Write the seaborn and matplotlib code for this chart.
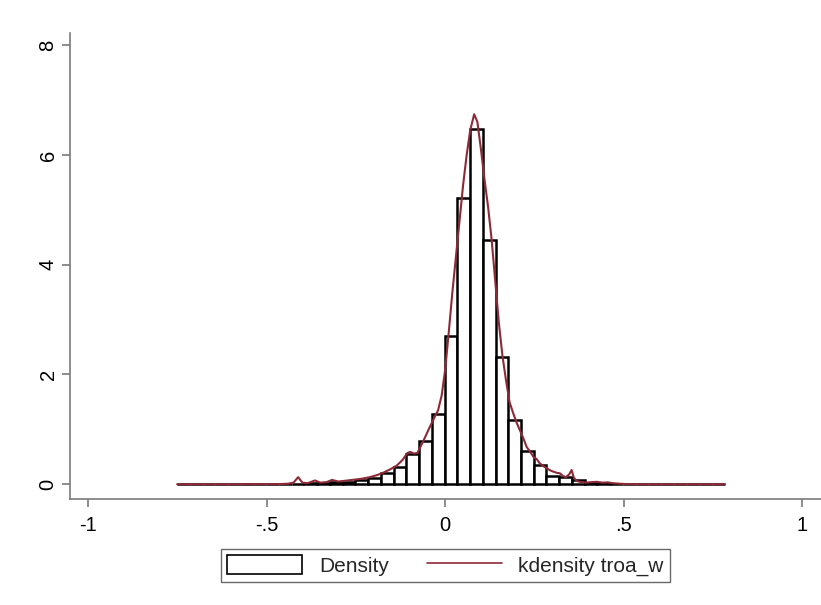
import numpy as np
import pandas as pd
import matplotlib
matplotlib.use("Agg")
import matplotlib.pyplot as plt
import seaborn as sns
from matplotlib.patches import Patch
from matplotlib.lines import Line2D

# ---- data ----
x_min, x_max, n_bins = -0.751, 0.783, 43
bin_edges = np.linspace(x_min, x_max, n_bins + 1)
bin_centers = (bin_edges[:-1] + bin_edges[1:]) / 2
hist_density = [
    0.01, 0.0, 0.0, 0.0, 0.0, 0.0, 0.0, 0.0, 0.005, 0.01,
    0.02, 0.03, 0.04, 0.05, 0.08, 0.11, 0.21, 0.32, 0.55, 0.78,
    1.28, 2.70, 5.21, 6.47, 4.45, 2.32, 1.17, 0.60, 0.35, 0.16,
    0.13, 0.08, 0.03, 0.02, 0.01, 0.005, 0.0, 0.0, 0.0, 0.0,
    0.0, 0.0, 0.0,
]

kde_x = [-0.751, -0.60, -0.47, -0.44, -0.425, -0.412, -0.400, -0.385, -0.365, -0.350,
         -0.332, -0.317, -0.300, -0.286, -0.260, -0.235, -0.211, -0.190, -0.174, -0.155,
         -0.136, -0.120, -0.106, -0.098, -0.088, -0.078, -0.062, -0.045, -0.030, -0.020,
         -0.010, 0.000, 0.010, 0.020, 0.030, 0.040, 0.050, 0.060, 0.070, 0.081,
         0.090, 0.100, 0.110, 0.120, 0.130, 0.140, 0.150, 0.160, 0.170, 0.180,
         0.190, 0.200, 0.210, 0.218, 0.228, 0.237, 0.247, 0.256, 0.265, 0.275,
         0.284, 0.295, 0.303, 0.312, 0.321, 0.330, 0.338, 0.347, 0.354, 0.360,
         0.368, 0.380, 0.395, 0.410, 0.425, 0.440, 0.455, 0.470, 0.490, 0.520,
         0.783]
kde_y = [0.0, 0.0, 0.003, 0.01, 0.03, 0.13, 0.03, 0.02, 0.07, 0.03,
         0.04, 0.08, 0.05, 0.06, 0.08, 0.10, 0.13, 0.17, 0.21, 0.27,
         0.34, 0.44, 0.57, 0.59, 0.56, 0.57, 0.78, 1.02, 1.22, 1.35,
         1.62, 2.10, 2.78, 3.50, 4.15, 4.80, 5.45, 6.00, 6.45, 6.74,
         6.60, 6.10, 5.55, 5.05, 4.45, 3.70, 2.95, 2.35, 1.90, 1.50,
         1.30, 1.12, 0.97, 0.85, 0.68, 0.60, 0.50, 0.46, 0.38, 0.33,
         0.29, 0.25, 0.23, 0.21, 0.20, 0.15, 0.13, 0.18, 0.26, 0.12,
         0.06, 0.04, 0.03, 0.04, 0.045, 0.03, 0.035, 0.02, 0.01, 0.0,
         0.0]

x_ticks = [-1, -0.5, 0, 0.5, 1]
x_tick_labels = ["-1", "-.5", "0", ".5", "1"]
y_ticks = [0, 2, 4, 6, 8]
y_tick_labels = ["0", "2", "4", "6", "8"]
legend_labels = ["Density", "kdensity troa_w"]

# ---- style ----
sns.set_theme(style="white")
plt.rcParams["font.family"] = ["Liberation Sans", "DejaVu Sans"]

line_color = "#8e2a38"
axis_color = "#7a7a7a"

fig = plt.figure(figsize=(8.21, 6.05), dpi=100)
ax = fig.add_axes([70 / 821, (605 - 499) / 605, (828 - 70) / 821, (499 - 33) / 605])

hist_df = pd.DataFrame({"x": bin_centers, "w": hist_density})
sns.histplot(data=hist_df, x="x", weights="w", bins=n_bins, binrange=(x_min, x_max),
             stat="count", element="bars", fill=True, color="white",
             edgecolor="black", linewidth=1.8, alpha=1.0, ax=ax)

kde_df = pd.DataFrame({"x": kde_x, "y": kde_y})
sns.lineplot(data=kde_df, x="x", y="y", color=line_color, linewidth=1.5,
             estimator=None, ax=ax)

ax.set_xlim(-1.051, 1.072)
ax.set_ylim(-0.268, 8.22)
ax.set_xticks(x_ticks)
ax.set_xticklabels(x_tick_labels)
ax.set_yticks(y_ticks)
ax.set_yticklabels(y_tick_labels, rotation=90, va="center")
ax.set_xlabel("")
ax.set_ylabel("")

for side in ["top", "right"]:
    ax.spines[side].set_visible(False)
for side in ["left", "bottom"]:
    ax.spines[side].set_color(axis_color)
    ax.spines[side].set_linewidth(1.2)

ax.tick_params(axis="both", which="major", direction="out", length=6, width=1.2,
               color=axis_color, labelsize=14.5, labelcolor="black",
               bottom=True, left=True)
ax.tick_params(axis="x", pad=6.5)
ax.tick_params(axis="y", pad=3)
ax.grid(False)

handles = [Patch(facecolor="white", edgecolor="black", linewidth=1.2),
           Line2D([0], [0], color=line_color, linewidth=1.2)]
leg = fig.legend(handles, legend_labels, loc="center", ncol=2,
                 bbox_to_anchor=(445.5 / 821, 1 - 565.5 / 605), frameon=True,
                 fancybox=False, edgecolor="#444444", fontsize=15,
                 handlelength=3.6, handleheight=1.0, columnspacing=1.8,
                 handletextpad=0.8, borderpad=0.3, borderaxespad=0)
leg.get_frame().set_linewidth(1.0)

fig.savefig("out.png", dpi=100, facecolor="white")
